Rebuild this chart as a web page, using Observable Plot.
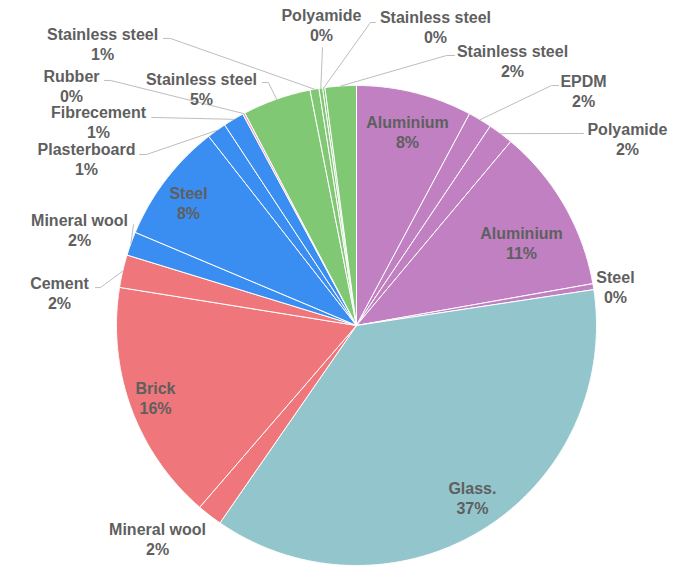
<!DOCTYPE html>
<html>
<head>
<meta charset="utf-8">
<script src="https://cdn.jsdelivr.net/npm/d3@7"></script>
<script src="https://cdn.jsdelivr.net/npm/@observablehq/plot@0.6"></script>
<style>
  html, body { margin: 0; padding: 0; background: #fff; }
  #chart { width: 689px; height: 568px; }
</style>
</head>
<body>
<div id="chart"></div>
<script>
// ---- data (clockwise from 12 o'clock) ----
const categories = ["Aluminium", "EPDM", "Polyamide", "Aluminium", "Steel", "Glass.",
  "Mineral wool", "Brick", "Cement", "Mineral wool", "Steel", "Plasterboard",
  "Fibrecement", "Rubber", "Stainless steel", "Stainless steel", "Polyamide",
  "Stainless steel", "Stainless steel"];
const shares = [7.8, 1.6, 1.7, 11.1, 0.4, 37.0, 1.7, 16.2, 2.2, 1.6, 8.1, 1.3,
  1.4, 0.15, 4.6, 0.6, 0.25, 0.15, 2.1];
const percentLabels = ["8%", "2%", "2%", "11%", "0%", "37%", "2%", "16%", "2%", "2%",
  "8%", "1%", "1%", "0%", "5%", "1%", "0%", "0%", "2%"];
const sliceColors = ["#c080c2", "#c080c2", "#c080c2", "#c080c2", "#c080c2", "#92c5cc",
  "#ef767a", "#ef767a", "#ef767a", "#3a8ef2", "#3a8ef2", "#3a8ef2",
  "#3a8ef2", "#e6a6c6", "#81c874", "#81c874", "#81c874", "#81c874", "#81c874"];

// ---- layout (in units of the pie radius, origin at pie centre, y up) ----
const labelPos = [[0.2125, 0.808], [0.946, 0.979], [1.129, 0.779], [0.6875, 0.346],
  [1.079, 0.1625], [0.483, -0.717], [-0.829, -0.8875], [-0.8375, -0.3],
  [-1.2375, 0.1375], [-1.154, 0.4], [-0.7, 0.5125], [-1.125, 0.696],
  [-1.075, 0.85], [-1.1875, 1.0], [-0.646, 0.9875], [-1.058, 1.175],
  [-0.146, 1.254], [0.329, 1.246], [0.65, 1.104]];
// leader lines: [slice index, label-side start, elbow]
const leaders = [
  [1, [0.842, 1.0], [0.8125, 1.0]],
  [2, [0.946, 0.8], [0.925, 0.8]],
  [8, [-1.0875, 0.158], [-1.067, 0.158]],
  [9, [-0.929, 0.421], [-0.929, 0.421]],
  [11, [-0.904, 0.7125], [-0.875, 0.7125]],
  [12, [-0.854, 0.867], [-0.854, 0.867]],
  [13, [-1.05, 1.021], [-1.025, 1.021]],
  [14, [-0.392, 1.0125], [-0.367, 1.0125]],
  [15, [-0.804, 1.196], [-0.775, 1.196]],
  [16, [-0.1417, 1.158], [-0.1417, 1.158]],
  [17, [0.079, 1.2625], [0.0583, 1.2625]],
  [18, [0.408, 1.125], [0.375, 1.125]]
];

const W = 689, H = 568;
const CX = 356, CY = 325, R = 240;

const arcs = d3.pie().sort(null).value(d => d)(shares);

// polygons for slices
const slicePts = [];
arcs.forEach((a, i) => {
  slicePts.push({i, x: 0, y: 0});
  const n = Math.max(2, Math.ceil((a.endAngle - a.startAngle) / 0.005));
  for (let k = 0; k <= n; k++) {
    const t = a.startAngle + (a.endAngle - a.startAngle) * k / n;
    slicePts.push({i, x: Math.sin(t), y: Math.cos(t)});
  }
  slicePts.push({i, x: 0, y: 0});
});

const leaderPts = [];
leaders.forEach(([i, s, e]) => {
  const a = arcs[i];
  const m = (a.startAngle + a.endAngle) / 2;
  leaderPts.push({i, x: s[0], y: s[1]});
  leaderPts.push({i, x: e[0], y: e[1]});
  leaderPts.push({i, x: Math.sin(m), y: Math.cos(m)});
});

const labels = categories.map((c, i) => ({
  text: c + "\n" + percentLabels[i],
  x: labelPos[i][0], y: labelPos[i][1]
}));

const chart = Plot.plot({
  width: W, height: H,
  margin: 0,
  x: {domain: [-CX / R, (W - CX) / R], axis: null},
  y: {domain: [-(H - CY) / R, CY / R], axis: null},
  color: {type: "identity"},
  style: {fontFamily: "'Liberation Sans', Arial, sans-serif", background: "#fff"},
  marks: [
    Plot.line(slicePts, {x: "x", y: "y", z: "i", fill: d => sliceColors[d.i],
      stroke: "#ffffff", strokeWidth: 1, strokeLinejoin: "round", curve: "linear"}),
    Plot.line(leaderPts, {x: "x", y: "y", z: "i", stroke: "#bdbdbd", strokeWidth: 1}),
    Plot.text(labels, {x: "x", y: "y", text: "text", fontSize: 16, fontWeight: "bold",
      fill: "#5f5f5f", lineHeight: 1.25, textAnchor: "middle"})
  ]
});
document.getElementById("chart").appendChild(chart);
</script>
</body>
</html>
